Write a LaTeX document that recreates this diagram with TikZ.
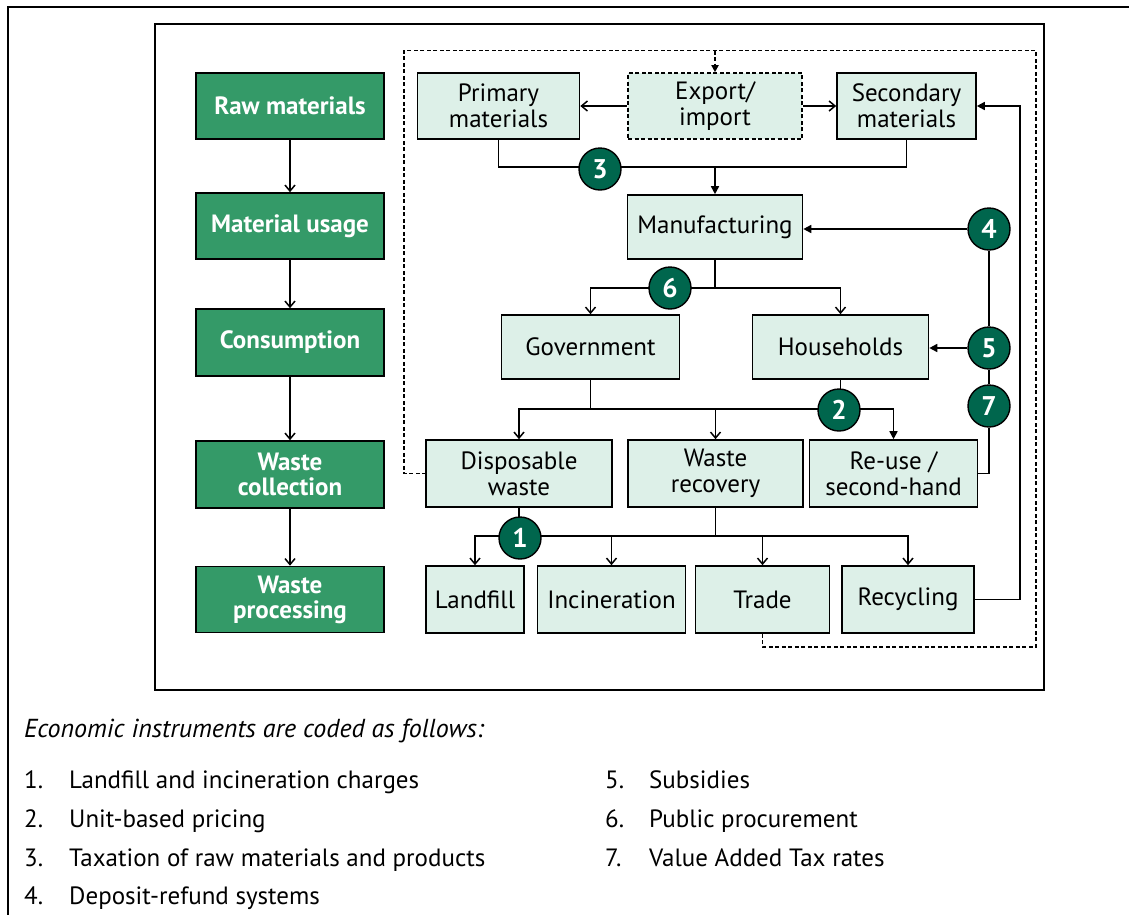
\documentclass[tikz,border=0pt]{standalone}
\usepackage{fontspec}
\setmainfont{PT Sans}
\usetikzlibrary{arrows.meta}
\definecolor{stagegreen}{RGB}{52,154,104}
\definecolor{paleflow}{RGB}{221,240,232}
\definecolor{badgegreen}{RGB}{0,102,77}
\begin{document}
\begin{tikzpicture}[x=1pt,y=-1pt,
  stage/.style={draw=black, line width=1.6pt, fill=stagegreen, text=white,
    font=\fontsize{25}{25}\selectfont\bfseries, align=center, inner sep=0pt,
    minimum width=188pt},
  flow/.style={draw=black, line width=1.6pt, fill=paleflow,
    font=\fontsize{25}{26}\selectfont, align=center, inner sep=0pt},
  badge/.style={circle, draw=black, line width=1.4pt, fill=badgegreen, text=white,
    font=\fontsize{27}{27}\selectfont\bfseries, minimum size=42pt, inner sep=0pt},
  link/.style={line width=1.6pt},
  openarrow/.style={link, -{Straight Barb[length=6pt,width=10pt,line width=1.5pt]}},
  solidarrow/.style={link, -{Triangle[length=8pt,width=8pt]}},
  dashline/.style={line width=1.7pt, dash pattern=on 4pt off 2.5pt},
  legtext/.style={anchor=base west, inner sep=0pt, font=\fontsize{25}{25}\selectfont},
]
\useasboundingbox (0,0) rectangle (1129,914);
\clip (0,0) rectangle (1129,914);

% frames
\draw[line width=2.2pt] (8,7) rectangle (1180,960);
\draw[line width=2pt] (155,24) rectangle (1044,690);

% life-cycle stages
\node[stage, minimum height=66pt] (raw)   at (290,106)   {Raw materials};
\node[stage, minimum height=66pt] (use)   at (290,226)   {Material usage};
\node[stage, minimum height=67pt] (cons)  at (290,342.5) {Consumption};
\node[stage, minimum height=67pt] (wcol)  at (290,474.5) {Waste\\collection};
\node[stage, minimum height=66pt] (wproc) at (290,599.5) {Waste\\processing};

\draw[openarrow] (raw) -- (use);
\draw[openarrow] (use) -- (cons);
\draw[openarrow] (cons) -- (wcol);
\draw[openarrow] (wcol) -- (wproc);

% material flows
\node[flow, minimum width=162pt, minimum height=66pt] (prim) at (498.5,106) {Primary\\materials};
\node[flow, minimum width=174pt, minimum height=66pt, dash pattern=on 4pt off 2.5pt] (expo) at (715,106) {Export/\\import};
\node[flow, minimum width=139pt, minimum height=66pt] (sec) at (906.5,106) {Secondary\\materials};
\node[flow, minimum width=175pt, minimum height=64pt] (manu) at (715,227) {Manufacturing};
\node[flow, minimum width=178pt, minimum height=64pt] (gov) at (590.5,347) {Government};
\node[flow, minimum width=176pt, minimum height=64pt] (hh) at (840.5,347) {Households};
\node[flow, minimum width=186pt, minimum height=67pt] (disp) at (519,473.5) {Disposable\\waste};
\node[flow, minimum width=175pt, minimum height=67pt] (wrec) at (715.5,473.5) {Waste\\recovery};
\node[flow, minimum width=168pt, minimum height=67pt] (reuse) at (893.5,473.5) {Re-use /\\second-hand};
\node[flow, minimum width=98pt, minimum height=67pt] (land) at (475,599.5) {Landfill};
\node[flow, minimum width=148pt, minimum height=67pt] (inc) at (611.5,599.5) {Incineration};
\node[flow, minimum width=134pt, minimum height=67pt] (trade) at (762.5,599.5) {Trade};
\node[flow, minimum width=132pt, minimum height=67pt] (recy) at (908,599.5) {Recycling};

% junction points
\coordinate (j3) at (715,167);
\coordinate (j6) at (715,288);
\coordinate (j2) at (590.5,409);
\coordinate (j1) at (519,536);
\coordinate (loopR) at (1020,106);
\coordinate (dTL) at (404,50.5);
\coordinate (dTR) at (1036,50.5);
\coordinate (dBR) at (1036,647);
\coordinate (dTop) at (715,50.5);

\draw[openarrow] (expo.west) -- (prim.east);
\draw[openarrow] (expo.east) -- (sec.west);
\draw[link] (prim.south) |- (j3) -| (sec.south);
\draw[solidarrow] (j3) -- (manu.north);

\draw[link] (manu.south) -- (j6);
\draw[openarrow] (j6) -| (gov.north);
\draw[openarrow] (j6) -| (hh.north);

\draw[link] (gov.south) -- (j2);
\draw[link] (hh.south) -- (hh.south |- j2);
\draw[openarrow] (j2) -| (disp.north);
\draw[openarrow] (j2) -| (wrec.north);
\draw[solidarrow] (j2) -| (reuse.north);

\draw[link] (disp.south) -- (j1);
\draw[link] (wrec.south) -- (wrec.south |- j1);
\draw[openarrow] (j1) -| (land.north);
\draw[openarrow] (j1) -| (inc.north);
\draw[openarrow] (j1) -| (trade.north);
\draw[openarrow] (j1) -| (recy.north);

\draw[solidarrow] (recy.east) -| (loopR) -- (sec.east);

\draw[dashline] (trade.south) |- (dBR) -- (dTR) -- (dTL) |- (disp.west);
\draw[dashline, -{Triangle[length=7pt,width=7pt]}] (dTop) -- (expo.north);

% instrument badges
\node[badge] (b3) at (600,169) {3};
\node[badge] (b6) at (670,288) {6};
\node[badge] (b2) at (839,410) {2};
\node[badge] (b1) at (520,538) {1};
\node[badge] (b4) at (989,229) {4};
\node[badge] (b5) at (989,348) {5};
\node[badge] (b7) at (989,406) {7};

\draw[solidarrow] (b4.west) -- (b4 -| manu.east);
\draw[link] (b4.south) -- (b5.north);
\draw[link] (b5.south) -- (b7.north);
\draw[solidarrow] (b5.west) -- (b5 -| hh.east);
\draw[link] (b7.south) |- (reuse.east);

% key to the instruments
\node[legtext, font=\fontsize{26}{26}\selectfont\itshape] (lhead) at (24,737) {Economic instruments are coded as follows:};
\node[legtext] (n1) at (24,788) {1.};  \node[legtext] (t1) at (69,788) {Landfill and incineration charges};
\node[legtext] (n2) at (24,827) {2.};  \node[legtext] (t2) at (69,827) {Unit-based pricing};
\node[legtext] (n3) at (24,866) {3.};  \node[legtext] (t3) at (69,866) {Taxation of raw materials and products};
\node[legtext] (n4) at (24,904) {4.};  \node[legtext] (t4) at (69,904) {Deposit-refund systems};
\node[legtext] (n5) at (605,788) {5.}; \node[legtext] (t5) at (649,788) {Subsidies};
\node[legtext] (n6) at (605,827) {6.}; \node[legtext] (t6) at (649,827) {Public procurement};
\node[legtext] (n7) at (605,866) {7.}; \node[legtext] (t7) at (649,866) {Value Added Tax rates};
\end{tikzpicture}
\end{document}
